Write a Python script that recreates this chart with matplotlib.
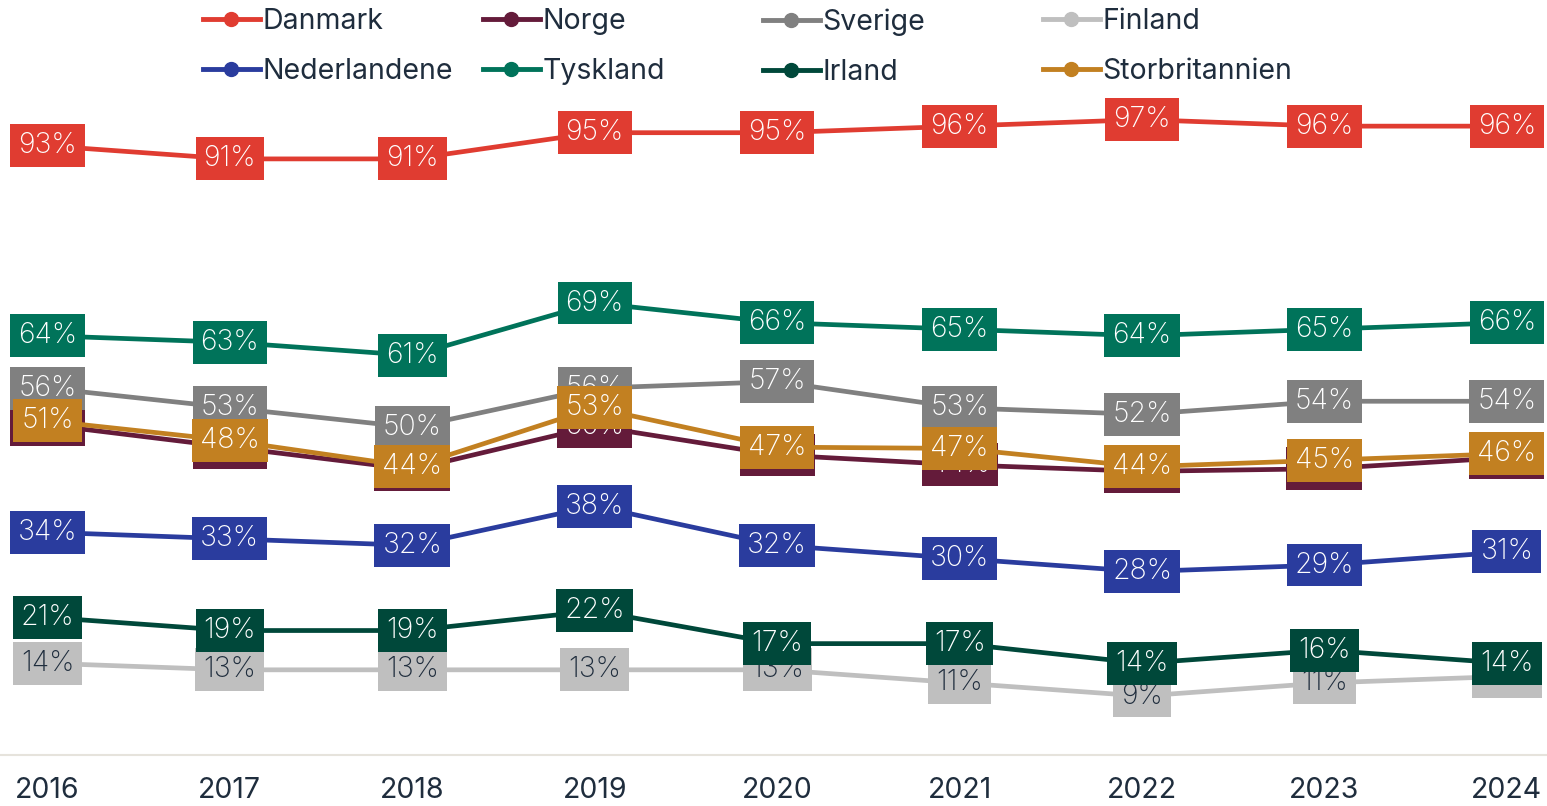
import matplotlib
matplotlib.use('Agg')
import matplotlib.pyplot as plt
from matplotlib.lines import Line2D

# data (percent)
years = [2016, 2017, 2018, 2019, 2020, 2021, 2022, 2023, 2024]
danmark = [93, 91, 91, 95, 95, 96, 97, 96, 96]
norge = [50.4, 47.0, 43.6, 50.2, 45.8, 44.3, 43.3, 43.7, 45.4]
sverige = [56, 53, 50, 56, 57, 53, 52, 54, 54]
finland = [14, 13, 13, 13, 13, 11, 9, 11, 12]
nederlandene = [34, 33, 32, 38, 32, 30, 28, 29, 31]
tyskland = [64, 63, 61, 69, 66, 65, 64, 65, 66]
irland = [21, 19, 19, 22, 17, 17, 14, 16, 14]
storbritannien = [51, 48, 44, 53, 47, 46.8, 44, 45, 46]

names = ['Danmark', 'Norge', 'Sverige', 'Finland',
         'Nederlandene', 'Tyskland', 'Irland', 'Storbritannien']
series = [danmark, norge, sverige, finland,
          nederlandene, tyskland, irland, storbritannien]
colors = ['#E03C31', '#641B3A', '#808080', '#BFBFBF',
          '#2A3C9E', '#00735A', '#00483A', '#C28021']
text_colors = ['white', 'white', 'white', '#1F2D3D',
               'white', 'white', 'white', 'white']

plt.rcParams['font.family'] = ['Inter', 'DejaVu Sans']
navy = '#1F2D3D'
fs = 20.5

fig = plt.figure(figsize=(15.47, 8.06), dpi=100)
ax = fig.add_axes([0, 0.0633, 1, 0.8127])

for i, (name, vals, c, tc) in enumerate(zip(names, series, colors, text_colors)):
    z = 2 + i * 2
    ax.plot(years, vals, color=c, lw=3.4, solid_capstyle='butt', zorder=z)
    for x, v in zip(years, vals):
        ax.text(x, v, f'{round(v)}%', ha='center', va='center', color=tc,
                fontsize=fs, fontweight='light', zorder=z + 1,
                bbox=dict(boxstyle='square,pad=0.28', fc=c, ec='none'))

ax.set_xlim(2015.74, 2024.22)
ax.set_ylim(0, 100)
ax.set_yticks([])
ax.set_xticks(years)
ax.set_xticklabels([str(y) for y in years], fontsize=fs, color=navy)
ax.tick_params(axis='x', length=0, pad=16)
for s in ['top', 'right', 'left']:
    ax.spines[s].set_visible(False)
ax.spines['bottom'].set_color('#E6E3DC')
ax.spines['bottom'].set_linewidth(1.5)

# legend: four columns with two rows each
col_x = [0.131, 0.312, 0.493, 0.674]
for k in range(4):
    hs = [Line2D([], [], color=colors[j], lw=3.5, marker='o', markersize=10)
          for j in (k, k + 4)]
    leg = fig.legend(hs, [names[k], names[k + 4]], loc='upper left',
                     bbox_to_anchor=(col_x[k], 0.99), frameon=False,
                     fontsize=fs, handlelength=2.0, handletextpad=0.1,
                     labelspacing=0.82, borderaxespad=0, borderpad=0)
    for t in leg.get_texts():
        t.set_color(navy)

fig.savefig('out.png', dpi=100)
